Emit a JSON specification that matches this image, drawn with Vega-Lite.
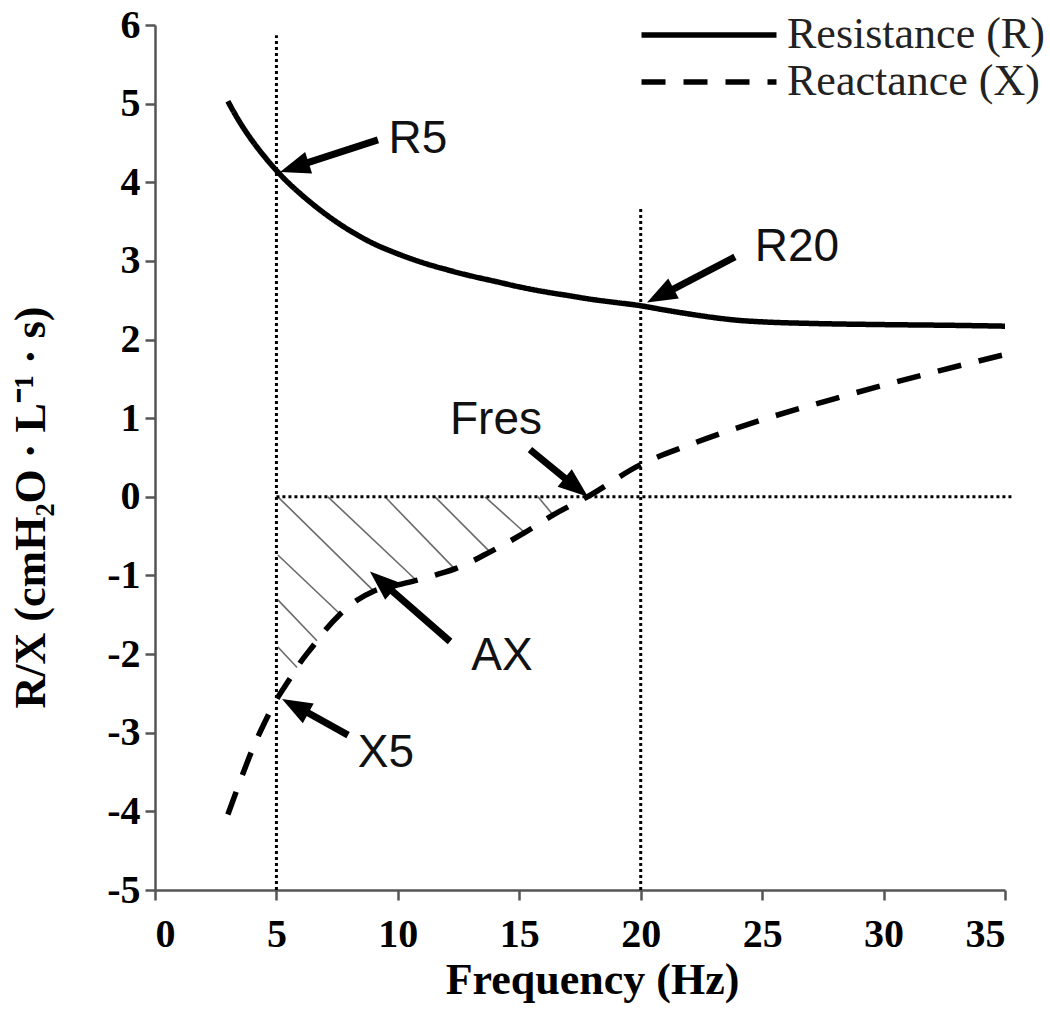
{
  "$schema": "https://vega.github.io/schema/vega-lite/v6.json",
  "width": 850,
  "height": 865,
  "autosize": {"type": "none"},
  "padding": {"left": 155, "top": 25, "right": 45, "bottom": 146},
  "background": "white",
  "config": {
    "view": {"stroke": null},
    "axis": {
      "grid": false,
      "domainColor": "#555555",
      "domainWidth": 2.5,
      "tickColor": "#555555",
      "tickWidth": 2.5,
      "tickSize": 10,
      "labelFont": "Liberation Serif",
      "labelFontWeight": "bold",
      "labelFontSize": 40,
      "labelColor": "black",
      "titleFont": "Liberation Serif",
      "titleFontWeight": "bold",
      "titleFontSize": 44,
      "titleColor": "black"
    }
  },
  "datasets": {
    "curves": [
      {"series": "Resistance (R)", "x": 3, "y": 5.03},
      {"series": "Resistance (R)", "x": 3.5, "y": 4.76},
      {"series": "Resistance (R)", "x": 4, "y": 4.53},
      {"series": "Resistance (R)", "x": 4.5, "y": 4.33},
      {"series": "Resistance (R)", "x": 5, "y": 4.15},
      {"series": "Resistance (R)", "x": 5.5, "y": 3.99},
      {"series": "Resistance (R)", "x": 6, "y": 3.85},
      {"series": "Resistance (R)", "x": 7, "y": 3.6},
      {"series": "Resistance (R)", "x": 8, "y": 3.39},
      {"series": "Resistance (R)", "x": 9, "y": 3.22},
      {"series": "Resistance (R)", "x": 10, "y": 3.09},
      {"series": "Resistance (R)", "x": 11, "y": 2.98},
      {"series": "Resistance (R)", "x": 12, "y": 2.89},
      {"series": "Resistance (R)", "x": 13, "y": 2.81},
      {"series": "Resistance (R)", "x": 14, "y": 2.74},
      {"series": "Resistance (R)", "x": 15, "y": 2.67},
      {"series": "Resistance (R)", "x": 16, "y": 2.61},
      {"series": "Resistance (R)", "x": 17, "y": 2.56},
      {"series": "Resistance (R)", "x": 18, "y": 2.51},
      {"series": "Resistance (R)", "x": 19, "y": 2.47},
      {"series": "Resistance (R)", "x": 20, "y": 2.43},
      {"series": "Resistance (R)", "x": 21, "y": 2.375},
      {"series": "Resistance (R)", "x": 22, "y": 2.325},
      {"series": "Resistance (R)", "x": 23, "y": 2.28},
      {"series": "Resistance (R)", "x": 24, "y": 2.245},
      {"series": "Resistance (R)", "x": 25, "y": 2.225},
      {"series": "Resistance (R)", "x": 27, "y": 2.205},
      {"series": "Resistance (R)", "x": 30, "y": 2.19},
      {"series": "Resistance (R)", "x": 33, "y": 2.18},
      {"series": "Resistance (R)", "x": 35, "y": 2.17},
      {"series": "Reactance (X)", "x": 3, "y": -4.04},
      {"series": "Reactance (X)", "x": 3.5, "y": -3.62},
      {"series": "Reactance (X)", "x": 4, "y": -3.22},
      {"series": "Reactance (X)", "x": 4.5, "y": -2.88},
      {"series": "Reactance (X)", "x": 5, "y": -2.58},
      {"series": "Reactance (X)", "x": 5.5, "y": -2.34},
      {"series": "Reactance (X)", "x": 6, "y": -2.1},
      {"series": "Reactance (X)", "x": 6.5, "y": -1.9},
      {"series": "Reactance (X)", "x": 7, "y": -1.7},
      {"series": "Reactance (X)", "x": 7.6, "y": -1.5},
      {"series": "Reactance (X)", "x": 8.3, "y": -1.32},
      {"series": "Reactance (X)", "x": 9, "y": -1.2},
      {"series": "Reactance (X)", "x": 10, "y": -1.12},
      {"series": "Reactance (X)", "x": 10.8, "y": -1.06},
      {"series": "Reactance (X)", "x": 11.6, "y": -0.99},
      {"series": "Reactance (X)", "x": 12.4, "y": -0.91},
      {"series": "Reactance (X)", "x": 13.8, "y": -0.7},
      {"series": "Reactance (X)", "x": 15.2, "y": -0.46},
      {"series": "Reactance (X)", "x": 16.4, "y": -0.23},
      {"series": "Reactance (X)", "x": 17.8, "y": 0},
      {"series": "Reactance (X)", "x": 20, "y": 0.41},
      {"series": "Reactance (X)", "x": 22, "y": 0.66},
      {"series": "Reactance (X)", "x": 25, "y": 0.98},
      {"series": "Reactance (X)", "x": 28, "y": 1.25},
      {"series": "Reactance (X)", "x": 30, "y": 1.42},
      {"series": "Reactance (X)", "x": 32, "y": 1.58},
      {"series": "Reactance (X)", "x": 35, "y": 1.81}
    ],
    "hatch": [
      {"x": 5.06, "y": 0, "x2": 8.98, "y2": -1.19},
      {"x": 7.12, "y": 0, "x2": 10.79, "y2": -1.07},
      {"x": 9.47, "y": 0, "x2": 12.35, "y2": -0.92},
      {"x": 11.53, "y": 0, "x2": 13.79, "y2": -0.7},
      {"x": 13.59, "y": 0, "x2": 15.24, "y2": -0.46},
      {"x": 15.77, "y": 0, "x2": 16.39, "y2": -0.23},
      {"x": 5.06, "y": -0.74, "x2": 7.62, "y2": -1.49},
      {"x": 5.06, "y": -1.31, "x2": 6.67, "y2": -1.83},
      {"x": 5.06, "y": -1.91, "x2": 5.85, "y2": -2.17}
    ],
    "refs": [
      {"x": 5, "y": -5, "x2": 5, "y2": 5.87},
      {"x": 20, "y": -5, "x2": 20, "y2": 3.67},
      {"x": 5, "y": 0, "x2": 35.3, "y2": 0}
    ],
    "arrows": [
      {"name": "R5", "x": 9.18, "y": 4.54, "x2": 5.69, "y2": 4.19, "hx": 5.15, "hy": 4.13, "lx": 10.83, "ly": 4.37},
      {"name": "R20", "x": 23.88, "y": 3.05, "x2": 20.77, "y2": 2.55, "hx": 20.26, "hy": 2.47, "lx": 26.43, "ly": 3.0},
      {"name": "Fres", "x": 15.44, "y": 0.6, "x2": 17.38, "y2": 0.11, "hx": 17.83, "hy": 0.0, "lx": 14.04, "ly": 0.8},
      {"name": "AX", "x": 12.15, "y": -1.84, "x2": 9.29, "y2": -1.07, "hx": 8.85, "hy": -0.95, "lx": 14.29, "ly": -2.2},
      {"name": "X5", "x": 7.95, "y": -3.03, "x2": 5.74, "y2": -2.65, "hx": 5.23, "hy": -2.57, "lx": 9.51, "ly": -3.43}
    ]
  },
  "layer": [
    {
      "data": {"name": "hatch"},
      "mark": {"type": "rule", "color": "#6a6a6a", "strokeWidth": 1.6},
      "encoding": {
        "x": {
          "field": "x", "type": "quantitative",
          "scale": {"domain": [0, 35], "nice": false, "zero": false},
          "axis": {
            "values": [0, 5, 10, 15, 20, 25, 30, 35],
            "labelPadding": 14,
            "title": "Frequency (Hz)",
            "titleX": 437,
            "titleY": 103,
            "titleBaseline": "alphabetic",
            "titleAnchor": "middle"
          }
        },
        "y": {
          "field": "y", "type": "quantitative",
          "scale": {"domain": [-5, 6], "nice": false, "zero": false},
          "axis": {
            "values": [-5, -4, -3, -2, -1, 0, 1, 2, 3, 4, 5, 6],
            "labelExpr": "datum.value + ''",
            "labelPadding": 5,
            "title": "R/X (cmH₂O · L⁻¹ · s)",
            "titleX": -124,
            "titleY": 482,
            "titleAlign": "center",
            "titleBaseline": "middle",
            "titleAngle": -90
          }
        },
        "x2": {"field": "x2"},
        "y2": {"field": "y2"}
      }
    },
    {
      "data": {"name": "refs"},
      "mark": {"type": "rule", "color": "black", "strokeWidth": 3, "strokeDash": [3, 3]},
      "encoding": {
        "x": {"field": "x", "type": "quantitative"},
        "y": {"field": "y", "type": "quantitative"},
        "x2": {"field": "x2"},
        "y2": {"field": "y2"}
      }
    },
    {
      "data": {"name": "curves"},
      "mark": {"type": "line", "color": "black", "strokeWidth": 5.5, "interpolate": "monotone"},
      "encoding": {
        "x": {"field": "x", "type": "quantitative"},
        "y": {"field": "y", "type": "quantitative"},
        "detail": {"field": "series"},
        "strokeDash": {
          "field": "series", "type": "nominal",
          "scale": {"domain": ["Resistance (R)", "Reactance (X)"], "range": [[1, 0], [24, 18]]},
          "legend": {
            "title": null,
            "orient": "none",
            "legendX": 532,
            "legendY": -12,
            "symbolType": "M-4.5,0H4.5",
            "symbolSize": 900,
            "symbolStrokeWidth": 5.5,
            "symbolStrokeColor": "black",
            "symbolFillColor": "transparent",
            "labelFont": "Liberation Serif",
            "labelFontSize": 44,
            "labelColor": "#222222",
            "labelLimit": 0,
            "labelOffset": 56,
            "rowPadding": 3,
            "padding": 0
          }
        }
      }
    },
    {
      "data": {"name": "arrows"},
      "mark": {"type": "rule", "color": "black", "strokeWidth": 7},
      "encoding": {
        "x": {"field": "x", "type": "quantitative"},
        "y": {"field": "y", "type": "quantitative"},
        "x2": {"field": "x2"},
        "y2": {"field": "y2"}
      }
    },
    {
      "data": {"name": "arrows"},
      "transform": [{"filter": "datum.name == 'R5'"}],
      "mark": {"type": "point", "shape": "M0,0L0.75,2L-0.75,2Z", "size": 900, "filled": true, "color": "black", "opacity": 1, "angle": 252},
      "encoding": {"x": {"field": "hx", "type": "quantitative"}, "y": {"field": "hy", "type": "quantitative"}}
    },
    {
      "data": {"name": "arrows"},
      "transform": [{"filter": "datum.name == 'R20'"}],
      "mark": {"type": "point", "shape": "M0,0L0.75,2L-0.75,2Z", "size": 900, "filled": true, "color": "black", "opacity": 1, "angle": 242},
      "encoding": {"x": {"field": "hx", "type": "quantitative"}, "y": {"field": "hy", "type": "quantitative"}}
    },
    {
      "data": {"name": "arrows"},
      "transform": [{"filter": "datum.name == 'Fres'"}],
      "mark": {"type": "point", "shape": "M0,0L0.75,2L-0.75,2Z", "size": 900, "filled": true, "color": "black", "opacity": 1, "angle": 129},
      "encoding": {"x": {"field": "hx", "type": "quantitative"}, "y": {"field": "hy", "type": "quantitative"}}
    },
    {
      "data": {"name": "arrows"},
      "transform": [{"filter": "datum.name == 'AX'"}],
      "mark": {"type": "point", "shape": "M0,0L0.75,2L-0.75,2Z", "size": 900, "filled": true, "color": "black", "opacity": 1, "angle": 311},
      "encoding": {"x": {"field": "hx", "type": "quantitative"}, "y": {"field": "hy", "type": "quantitative"}}
    },
    {
      "data": {"name": "arrows"},
      "transform": [{"filter": "datum.name == 'X5'"}],
      "mark": {"type": "point", "shape": "M0,0L0.75,2L-0.75,2Z", "size": 900, "filled": true, "color": "black", "opacity": 1, "angle": 299},
      "encoding": {"x": {"field": "hx", "type": "quantitative"}, "y": {"field": "hy", "type": "quantitative"}}
    },
    {
      "data": {"name": "arrows"},
      "mark": {"type": "text", "font": "Liberation Sans", "fontSize": 46, "color": "#111111", "align": "center", "baseline": "alphabetic"},
      "encoding": {
        "x": {"field": "lx", "type": "quantitative"},
        "y": {"field": "ly", "type": "quantitative"},
        "text": {"field": "name"}
      }
    }
  ]
}
